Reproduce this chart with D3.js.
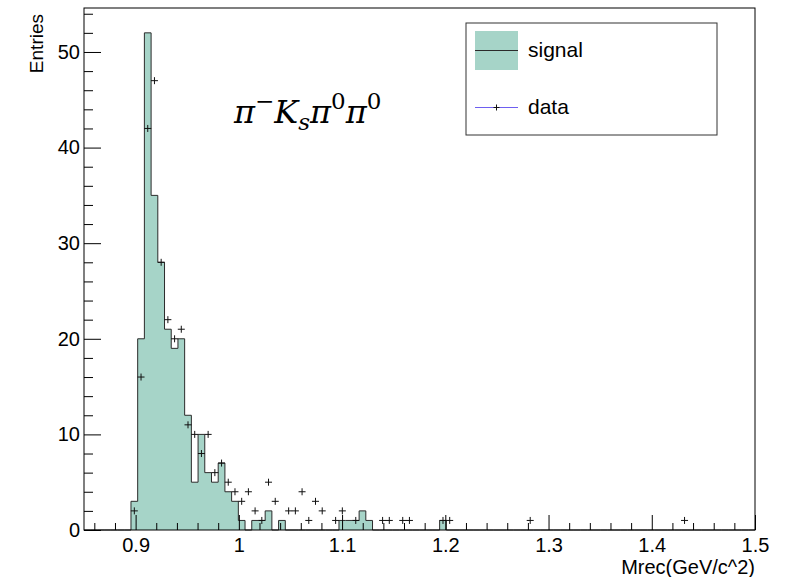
<!DOCTYPE html>
<html>
<head>
<meta charset="utf-8">
<script src="https://cdn.jsdelivr.net/npm/d3@7"></script>
<style>
  html, body { margin: 0; padding: 0; background: #ffffff; }
  svg { display: block; }
</style>
</head>
<body>
<svg id="chart" width="800" height="577" font-family="'Liberation Sans', Arial, Helvetica, sans-serif"></svg>
<script>
// Histogram binning: 100 bins from 0.85 to 1.5 GeV/c^2
const binLow = 0.85;
const binHigh = 1.5;
const nBins = 100;

// Signal MC counts per bin (bins 0..99)
const signalCounts = [
  0, 0, 0, 0, 0, 0, 0, 3, 20, 52,
  35, 28, 21, 19, 20, 12, 5, 10, 6, 5,
  7, 4, 3, 1, 0, 1, 1, 2, 0, 1,
  0, 0, 0, 0, 0, 0, 0, 0, 1, 1,
  1, 2, 1, 0, 0, 0, 0, 0, 0, 0,
  0, 0, 0, 1, 0, 0, 0, 0, 0, 0,
  0, 0, 0, 0, 0, 0, 0, 0, 0, 0,
  0, 0, 0, 0, 0, 0, 0, 0, 0, 0,
  0, 0, 0, 0, 0, 0, 0, 0, 0, 0,
  0, 0, 0, 0, 0, 0, 0, 0, 0, 0
];

// Data counts per bin (bins 0..99)
const dataCounts = [
  0, 0, 0, 0, 0, 0, 0, 2, 16, 42,
  47, 28, 22, 20, 21, 11, 10, 8, 10, 6,
  7, 5, 4, 3, 4, 2, 1, 5, 3, 0,
  2, 2, 4, 1, 3, 2, 0, 1, 2, 0,
  1, 0, 0, 0, 1, 1, 0, 1, 1, 0,
  0, 0, 0, 1, 1, 0, 0, 0, 0, 0,
  0, 0, 0, 0, 0, 0, 1, 0, 0, 0,
  0, 0, 0, 0, 0, 0, 0, 0, 0, 0,
  0, 0, 0, 0, 0, 0, 0, 0, 0, 1,
  0, 0, 0, 0, 0, 0, 0, 0, 0, 0
];

// Axis ticks
const xMajorTicks = [0.9, 1.0, 1.1, 1.2, 1.3, 1.4, 1.5];
const yMajorTicks = [0, 10, 20, 30, 40, 50];

const legendLabels = ["signal", "data"];
const xTitle = "Mrec(GeV/c^2)";
const yTitle = "Entries";

const yMax = 54.6;
const binWidth = (binHigh - binLow) / nBins;

const frame = { left: 84, right: 755, top: 8, bottom: 530 };

const svg = d3.select("#chart");

const x = d3.scaleLinear().domain([binLow, binHigh]).range([frame.left, frame.right]);
const y = d3.scaleLinear().domain([0, yMax]).range([frame.bottom, frame.top]);

const fillColor = "#a6d4c8";
const lineColor = "#2b2b2b";

// Minor tick positions
const xMinorTicks = d3.range(43, 76).map(i => +(i * 0.02).toFixed(2))
  .filter(v => v > binLow && v < binHigh && Math.abs(v * 10 - Math.round(v * 10)) > 1e-6);
const yMinorTicks = d3.range(1, 28).map(i => i * 2).filter(v => v % 10 !== 0 && v < yMax);

// Step outline of the signal histogram
const stepPts = [[binLow, 0]];
signalCounts.forEach((c, i) => stepPts.push([binLow + i * binWidth, c]));
stepPts.push([binHigh, signalCounts[nBins - 1]]);
stepPts.push([binHigh, 0]);

const area = d3.area()
  .x(d => x(d[0]))
  .y0(y(0))
  .y1(d => y(d[1]))
  .curve(d3.curveStepAfter);
const line = d3.line()
  .x(d => x(d[0]))
  .y(d => y(d[1]))
  .curve(d3.curveStepAfter);

svg.append("path")
  .attr("d", area(stepPts))
  .attr("fill", fillColor)
  .attr("stroke", "none");
svg.append("path")
  .attr("d", line(stepPts))
  .attr("fill", "none")
  .attr("stroke", lineColor)
  .attr("stroke-width", 1);

// Data points as plus markers at bin centres
const dataPts = dataCounts
  .map((c, i) => ({ xc: binLow + (i + 0.5) * binWidth, c }))
  .filter(d => d.c > 0);
const markers = svg.append("g").attr("class", "data");
const arm = 3.5;
dataPts.forEach(d => {
  const px = x(d.xc), py = y(d.c);
  markers.append("path")
    .attr("d", `M${px - arm},${py}H${px + arm}M${px},${py - arm}V${py + arm}`)
    .attr("stroke", "#111")
    .attr("stroke-width", 1)
    .attr("fill", "none");
});

// Frame
svg.append("rect")
  .attr("x", frame.left).attr("y", frame.top)
  .attr("width", frame.right - frame.left)
  .attr("height", frame.bottom - frame.top)
  .attr("fill", "none")
  .attr("stroke", "#000")
  .attr("stroke-width", 1);

// X axis
const fmtX = d3.format("~g");
const xAxisG = svg.append("g").attr("transform", `translate(0,${frame.bottom})`);
xAxisG.call(d3.axisBottom(x).tickValues(xMajorTicks).tickSize(-15).tickPadding(8).tickFormat(fmtX));
xAxisG.append("g").call(d3.axisBottom(x).tickValues(xMinorTicks).tickSize(-7).tickFormat(""));

// Y axis
const yAxisG = svg.append("g").attr("transform", `translate(${frame.left},0)`);
yAxisG.call(d3.axisLeft(y).tickValues(yMajorTicks).tickSize(-17).tickPadding(4).tickFormat(d3.format("d")));
yAxisG.append("g").call(d3.axisLeft(y).tickValues(yMinorTicks).tickSize(-9).tickFormat(""));

svg.selectAll(".domain").remove();
svg.selectAll(".tick line").attr("stroke", "#000").attr("stroke-width", 1);
svg.selectAll(".tick text")
  .attr("font-family", "'Liberation Sans', Arial, sans-serif")
  .attr("font-size", 20)
  .attr("fill", "#000");

// Axis titles
svg.append("text")
  .attr("x", frame.right).attr("y", 574)
  .attr("text-anchor", "end")
  .attr("font-size", 20)
  .text(xTitle);
svg.append("text")
  .attr("transform", `translate(43,${frame.top + 6}) rotate(-90)`)
  .attr("text-anchor", "end")
  .attr("font-size", 19)
  .text(yTitle);

// Legend
const lg = svg.append("g");
lg.append("rect")
  .attr("x", 466).attr("y", 23).attr("width", 251).attr("height", 112)
  .attr("fill", "#fff").attr("stroke", "#333").attr("stroke-width", 1);
lg.append("rect")
  .attr("x", 475).attr("y", 31).attr("width", 43).attr("height", 39)
  .attr("fill", fillColor);
lg.append("line")
  .attr("x1", 475).attr("x2", 518).attr("y1", 50.5).attr("y2", 50.5)
  .attr("stroke", lineColor).attr("stroke-width", 1);
lg.append("text")
  .attr("x", 528).attr("y", 57)
  .attr("font-size", 21)
  .text(legendLabels[0]);
lg.append("line")
  .attr("x1", 475).attr("x2", 518).attr("y1", 107.5).attr("y2", 107.5)
  .attr("stroke", "#6e5ff0").attr("stroke-width", 1.2);
lg.append("path")
  .attr("d", `M${496.5 - 3},107.5H${496.5 + 3}M496.5,${107.5 - 3}V${107.5 + 3}`)
  .attr("stroke", "#111").attr("stroke-width", 1);
lg.append("text")
  .attr("x", 528).attr("y", 114)
  .attr("font-size", 21)
  .text(legendLabels[1]);

// Decay-channel label
const label = svg.append("text")
  .attr("x", 234).attr("y", 123)
  .attr("font-family", "'DejaVu Serif', 'Liberation Serif', serif")
  .attr("font-size", 32)
  .attr("fill", "#000");
label.append("tspan").attr("font-style", "italic").text("π");
label.append("tspan").attr("dy", -14).attr("font-size", 23).text("−");
label.append("tspan").attr("dy", 14).attr("font-style", "italic").text("K");
label.append("tspan").attr("dy", 7).attr("font-size", 23).attr("font-style", "italic").text("s");
label.append("tspan").attr("dy", -7).attr("font-style", "italic").text("π");
label.append("tspan").attr("dy", -14).attr("font-size", 23).text("0");
label.append("tspan").attr("dy", 14).attr("font-style", "italic").text("π");
label.append("tspan").attr("dy", -14).attr("font-size", 23).text("0");
</script>
</body>
</html>
